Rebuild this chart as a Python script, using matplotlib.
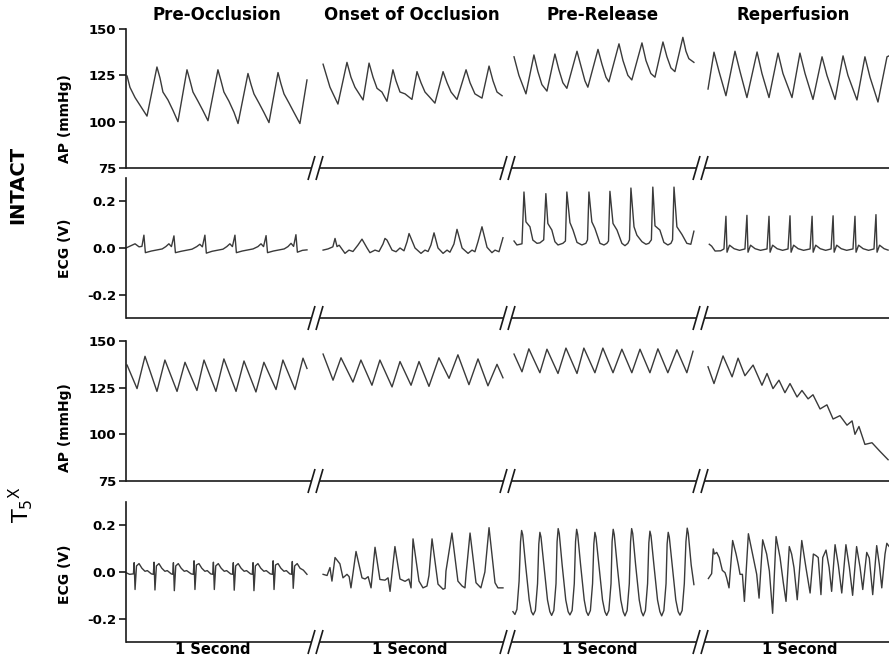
"""Arterial pressure and ECG traces, intact vs T5X, in four 1-s windows
around a coronary occlusion. Writes out.png."""

import matplotlib
matplotlib.use("Agg")
import matplotlib.pyplot as plt
from matplotlib.lines import Line2D

# ---- traces: (time in ms inside the 1-s window, value) -----------------------
# AP in mmHg, ECG in V

INTACT_AP_PRE = [
    (6, 124.6), (22, 118.5), (50, 113), (83, 108), (116, 103),
    (171, 129.5), (188, 123.5), (204, 116), (232, 111.7), (260, 106), (287, 100),
    (337, 128), (354, 122), (370, 116), (398, 111), (425, 106), (453, 100.5),
    (508, 128), (525, 122), (541, 116), (569, 111), (597, 105), (619, 99),
    (674, 126), (691, 120), (707, 115), (735, 110), (762, 105), (790, 99.5),
    (840, 126.5), (856, 120.5), (873, 115), (901, 110), (928, 105), (961, 99),
    (1000, 122.5),
]
INTACT_AP_ONSET = [
    (6, 131), (44, 118.6), (88, 109.5),
    (138, 132), (160, 124), (182, 118.6), (227, 111.7),
    (260, 131.6), (282, 124), (304, 118), (331, 116), (359, 111),
    (392, 128), (409, 122), (431, 116), (459, 115), (497, 112),
    (525, 127), (547, 121), (569, 116), (597, 113), (624, 110),
    (669, 127), (691, 121), (713, 116), (746, 112),
    (796, 128), (818, 121), (845, 115), (884, 112.7),
    (923, 130), (945, 122), (967, 116), (995, 114),
]
INTACT_AP_RELEASE = [
    (6, 135), (33, 125), (72, 115),
    (116, 136), (138, 127), (160, 120), (188, 116.5),
    (232, 136.5), (254, 128), (276, 121), (298, 118),
    (354, 138), (376, 130), (398, 122), (414, 118.6),
    (470, 139), (492, 131), (514, 124), (530, 121.5),
    (586, 142), (608, 133), (635, 125), (657, 122.5),
    (713, 142.5), (735, 133), (762, 126), (785, 124),
    (829, 143), (851, 135), (873, 129), (895, 127),
    (939, 145.5), (956, 138), (972, 134), (1000, 132),
]
INTACT_AP_REPERF = [
    (0, 117.6), (33, 137.5), (61, 127), (99, 114),
    (149, 138), (177, 127), (215, 113),
    (271, 137.6), (298, 126), (337, 113),
    (387, 137), (414, 126), (464, 113),
    (508, 137), (536, 126), (580, 112),
    (630, 135), (657, 125), (702, 112),
    (746, 135.5), (773, 125), (823, 111.7),
    (867, 135), (895, 124), (939, 110.6),
    (989, 135), (1000, 135.5),
]

INTACT_ECG_PRE = [
    (0, 0.0), (22, 0.008), (50, 0.018), (72, 0.005), (88, 0.007),
    (99, 0.055), (107, -0.02), (140, -0.013), (200, -0.004),
    (220, 0.006), (237, 0.018), (251, 0.006), (265, 0.052), (273, -0.02), (305, -0.014), (365, -0.005),
    (391, 0.006), (408, 0.016), (422, 0.005), (436, 0.055), (444, -0.022), (476, -0.014), (536, -0.005),
    (557, 0.006), (574, 0.018), (588, 0.006), (602, 0.055), (610, -0.02), (642, -0.013), (702, -0.004),
    (729, 0.006), (746, 0.018), (760, 0.006), (774, 0.053), (782, -0.02), (814, -0.013), (874, -0.004),
    (895, 0.006), (912, 0.02), (926, 0.007), (939, 0.057), (947, -0.018), (975, -0.01), (1000, -0.008),
]
INTACT_ECG_ONSET = [
    (6, -0.009), (33, -0.004), (60, 0.005), (72, 0.041), (83, 0.006), (95, 0.012),
    (127, -0.023), (149, -0.009), (171, -0.015),
    (199, 0.013), (221, 0.038), (249, 0.0), (265, -0.02), (293, -0.009), (315, -0.015),
    (337, 0.017), (348, 0.041), (359, 0.034), (387, -0.009), (409, -0.016), (431, 0.0), (453, -0.012),
    (470, 0.027), (481, 0.062), (514, 0.0), (547, -0.023), (569, -0.009), (586, -0.015),
    (602, 0.013), (619, 0.065), (641, 0.0), (669, -0.023), (691, -0.009), (707, -0.018),
    (729, 0.017), (746, 0.08), (774, 0.0), (807, -0.023), (829, -0.009), (845, -0.016),
    (862, 0.027), (884, 0.091), (912, 0.003), (939, -0.02), (956, -0.009), (978, -0.016),
    (1000, 0.044),
]
INTACT_ECG_RELEASE = [
    (6, 0.03), (22, 0.013), (50, 0.018), (61, 0.24), (72, 0.112), (94, 0.091),
    (110, 0.034), (133, 0.02), (149, 0.022), (170, 0.035),
    (182, 0.233), (193, 0.105), (215, 0.077), (232, 0.027), (249, 0.013), (276, 0.02), (290, 0.03),
    (298, 0.24), (315, 0.109), (332, 0.077), (354, 0.024), (381, 0.013), (403, 0.02), (412, 0.035),
    (420, 0.24), (436, 0.112), (453, 0.084), (481, 0.02), (503, 0.013), (519, 0.02), (528, 0.03),
    (536, 0.243), (553, 0.105), (575, 0.077), (602, 0.02), (619, 0.01), (635, 0.02), (644, 0.035),
    (652, 0.257), (669, 0.091), (685, 0.055), (713, 0.027), (735, 0.016), (751, 0.02), (765, 0.035),
    (773, 0.261), (785, 0.095), (812, 0.077), (834, 0.024), (856, 0.013), (873, 0.02), (882, 0.035),
    (890, 0.261), (906, 0.091), (934, 0.058), (961, 0.02), (983, 0.016), (1000, 0.072),
]
INTACT_ECG_REPERF = [
    (7, 0.016), (20, 0.008), (39, -0.013), (70, -0.012), (88, -0.004),
    (99, 0.136), (105, -0.018), (119, 0.012), (144, -0.003), (174, -0.01), (204, -0.004),
    (215, 0.14), (221, -0.018), (235, 0.012), (260, -0.003), (290, -0.01), (326, -0.004),
    (337, 0.136), (343, -0.018), (357, 0.012), (382, -0.003), (412, -0.01), (442, -0.004),
    (453, 0.138), (459, -0.018), (473, 0.012), (498, -0.003), (528, -0.01), (564, -0.004),
    (575, 0.136), (581, -0.018), (595, 0.012), (620, -0.003), (650, -0.01), (680, -0.004),
    (691, 0.138), (697, -0.018), (711, 0.012), (736, -0.003), (766, -0.01), (801, -0.004),
    (812, 0.136), (818, -0.018), (832, 0.012), (857, -0.003), (887, -0.01), (917, -0.004),
    (928, 0.143), (934, -0.018), (948, 0.012), (973, -0.003), (995, -0.009),
]

T5X_AP_PRE = [
    (6, 137.1), (61, 124.5), (105, 141.8), (171, 123), (215, 139.8), (282, 123),
    (326, 138.6), (392, 123.5), (431, 139.8), (497, 123), (541, 140.4), (608, 123),
    (652, 139.3), (718, 122.7), (762, 138.6), (829, 124), (867, 139.8), (934, 124),
    (978, 140.8), (1000, 135.3),
]
T5X_AP_ONSET = [
    (6, 143), (61, 129), (105, 141), (171, 128), (215, 139.8), (276, 126.3),
    (320, 139.8), (387, 125.4), (431, 139), (492, 126.3), (536, 139), (591, 125.7),
    (646, 141), (702, 130), (751, 142.6), (812, 126.6), (862, 140.4), (917, 126),
    (967, 137.5), (1000, 130.3),
]
T5X_AP_RELEASE = [
    (6, 143), (50, 133.5), (88, 145.8), (149, 133), (188, 145.6), (249, 132.6),
    (293, 146.2), (354, 132.6), (392, 146.2), (453, 133), (497, 146.2), (553, 133),
    (602, 145.6), (657, 133), (702, 145.6), (757, 133), (801, 145.8), (856, 133),
    (906, 145.3), (961, 133), (995, 144.5),
]
T5X_AP_REPERF = [
    (0, 136.2), (33, 127.2), (83, 142), (133, 130.8), (166, 140.8), (204, 131.4),
    (249, 137.1), (298, 126.3), (326, 132.6), (359, 124.5), (392, 129), (425, 122.3),
    (453, 127.2), (492, 120), (519, 123.5), (553, 119), (580, 121.2), (619, 113.6),
    (657, 115.8), (691, 108.2), (729, 110), (768, 104.9), (796, 107.2), (812, 100),
    (834, 104.2), (867, 94.6), (906, 95.5), (950, 90.9), (995, 86.4),
]

T5X_ECG_PRE = [
    (0, -0.003), (20, -0.01), (41, -0.008), (45, 0.04), (50, -0.075), (58, 0.026),
    (72, 0.036), (88, 0.016), (105, 0.003), (118, 0.006), (140, -0.008),
    (151, -0.01), (155, 0.042), (160, -0.077), (168, 0.026), (182, 0.036), (198, 0.016), (215, 0.003), (228, 0.006), (250, -0.008),
    (258, -0.01), (262, 0.04), (267, -0.08), (275, 0.026), (289, 0.036), (305, 0.016), (322, 0.003), (335, 0.006), (360, -0.008),
    (372, -0.01), (376, 0.048), (381, -0.075), (389, 0.03), (403, 0.036), (419, 0.016), (436, 0.003), (449, 0.006), (468, -0.008),
    (479, -0.01), (483, 0.042), (488, -0.075), (496, 0.026), (510, 0.036), (526, 0.016), (543, 0.003), (556, 0.006), (578, -0.008),
    (589, -0.01), (593, 0.04), (598, -0.078), (606, 0.026), (620, 0.036), (636, 0.016), (653, 0.003), (666, 0.006), (688, -0.008),
    (698, -0.01), (702, 0.04), (707, -0.08), (715, 0.026), (729, 0.036), (745, 0.016), (762, 0.003), (775, 0.006), (797, -0.008),
    (809, -0.01), (813, 0.048), (818, -0.075), (826, 0.03), (840, 0.036), (856, 0.016), (873, 0.003), (886, 0.006), (905, -0.008),
    (915, -0.01), (919, 0.045), (924, -0.07), (932, 0.026), (946, 0.036), (962, 0.016), (980, 0.008), (1000, -0.01),
]
T5X_ECG_ONSET = [
    (6, -0.01), (28, -0.015), (44, 0.019), (55, -0.039), (72, 0.062), (99, 0.035),
    (116, -0.025), (138, -0.01), (150, -0.02),
    (160, -0.068), (188, 0.088), (221, -0.025), (238, -0.03), (255, -0.02),
    (271, -0.068), (293, 0.106), (320, -0.032), (348, -0.035), (365, -0.025),
    (376, -0.083), (403, 0.109), (431, -0.03), (459, -0.04), (480, -0.03),
    (492, -0.068), (503, 0.142), (536, -0.039), (558, -0.068), (580, -0.06),
    (591, -0.015), (608, 0.142), (641, -0.052), (669, -0.074), (680, -0.07),
    (685, 0.004), (718, 0.167), (751, -0.039), (774, -0.06), (790, -0.068),
    (796, -0.01), (818, 0.167), (851, -0.046), (878, -0.068),
    (900, 0.0), (923, 0.19), (956, -0.046), (972, -0.068), (1000, -0.068),
]
T5X_ECG_RELEASE = [
    (0, -0.17), (11, -0.182), (22, -0.16), (34, -0.04), (42, 0.13), (48, 0.178),
    (54, 0.16), (70, 0.03), (90, -0.12), (102, -0.17), (112, -0.184),
    (124, -0.165), (136, -0.05), (143, 0.12), (149, 0.17), (155, 0.15), (171, 0.03), (191, -0.12), (204, -0.17), (214, -0.186),
    (226, -0.165), (238, -0.05), (244, 0.13), (250, 0.186), (256, 0.165), (272, 0.03), (292, -0.12), (305, -0.17), (315, -0.184),
    (327, -0.165), (339, -0.05), (346, 0.13), (352, 0.183), (358, 0.16), (374, 0.03), (394, -0.12), (406, -0.17), (416, -0.186),
    (428, -0.165), (440, -0.05), (447, 0.12), (453, 0.17), (459, 0.15), (475, 0.03), (495, -0.12), (508, -0.17), (518, -0.186),
    (530, -0.165), (542, -0.05), (548, 0.13), (554, 0.183), (560, 0.16), (576, 0.03), (596, -0.12), (609, -0.17), (619, -0.188),
    (631, -0.165), (643, -0.05), (650, 0.13), (656, 0.186), (662, 0.165), (678, 0.03), (698, -0.12), (710, -0.17), (720, -0.188),
    (732, -0.165), (744, -0.05), (751, 0.125), (757, 0.175), (763, 0.155), (779, 0.03), (799, -0.12), (812, -0.17), (822, -0.188),
    (834, -0.165), (846, -0.05), (852, 0.12), (858, 0.17), (864, 0.15), (880, 0.03), (900, -0.12), (913, -0.17), (923, -0.185),
    (935, -0.165), (947, -0.05), (956, 0.13), (963, 0.188), (969, 0.165), (985, 0.03), (1000, -0.054),
]
T5X_ECG_REPERF = [
    (2, -0.028), (20, -0.007), (29, 0.099), (35, 0.077), (48, 0.084), (62, 0.062),
    (79, 0.007), (94, -0.003), (103, -0.025), (116, -0.068), (136, 0.135), (155, 0.077),
    (167, 0.033), (177, -0.01), (190, -0.01), (201, -0.126), (223, 0.164), (250, 0.062),
    (269, -0.01), (282, -0.112), (302, 0.138), (324, 0.077), (339, 0.004), (357, -0.177),
    (376, 0.152), (398, 0.062), (416, -0.046), (431, -0.126), (449, 0.109), (462, 0.077),
    (475, 0.019), (493, -0.119), (518, 0.135), (541, 0.019), (564, -0.09), (582, 0.077),
    (597, 0.07), (609, 0.062), (624, -0.097), (634, 0.062), (652, 0.094), (669, 0.02),
    (683, -0.083), (702, 0.117), (720, 0.03), (739, -0.09), (762, 0.117), (781, 0.02),
    (799, -0.1), (821, 0.109), (840, 0.02), (855, -0.075), (877, 0.084), (891, 0.06),
    (910, -0.097), (932, 0.113), (947, 0.03), (960, -0.068), (978, 0.077), (988, 0.123),
    (1000, 0.11),
]

WINDOWS = ["Pre-Occlusion", "Onset of Occlusion", "Pre-Release", "Reperfusion"]
GROUPS = ["INTACT", "T$_5$$^{\\rm X}$"]
AP_TICKS = [75, 100, 125, 150]
AP_TICK_LABELS = ["75", "100", "125", "150"]
ECG_TICKS = [-0.2, 0.0, 0.2]
ECG_TICK_LABELS = ["-0.2", "0.0", "0.2"]

# ---- layout (pixels on the 889 x 659 canvas) ---------------------------------
W, H = 889, 659
LEFT, RIGHT = 126, 889
WIN_START = [0.0, 1.083, 2.138, 3.216]    # s, start of each window on the time axis
T_MAX = 4.216
BREAKS = [316, 508, 701]                  # x of the "//" marks
TITLE_X = [217, 412, 603, 793]
SECOND_X = [213, 410, 600, 800]
AXIS_COLOR = "#1a1a1a"
TRACE_COLOR = "#3a3a3a"


def fx(x):
    return x / W


def fy(y):
    return 1 - y / H


def fig_line(fig, xs, ys):
    fig.add_artist(Line2D([fx(x) for x in xs], [fy(y) for y in ys],
                          transform=fig.transFigure, color=AXIS_COLOR,
                          lw=1.2, solid_capstyle="butt"))


def main():
    fig = plt.figure(figsize=(W / 100, H / 100), dpi=100)

    panels = [
        # (top, bottom), traces, ylim, ticks, tick labels, ylabel, ylabel y
        ((29, 168), [INTACT_AP_PRE, INTACT_AP_ONSET, INTACT_AP_RELEASE, INTACT_AP_REPERF],
         (75, 150), AP_TICKS, AP_TICK_LABELS, "AP (mmHg)", 119),
        ((178, 318), [INTACT_ECG_PRE, INTACT_ECG_ONSET, INTACT_ECG_RELEASE, INTACT_ECG_REPERF],
         (-0.3, 0.3), ECG_TICKS, ECG_TICK_LABELS, "ECG (V)", 248),
        ((341, 481), [T5X_AP_PRE, T5X_AP_ONSET, T5X_AP_RELEASE, T5X_AP_REPERF],
         (75, 150), AP_TICKS, AP_TICK_LABELS, "AP (mmHg)", 428),
        ((502, 642), [T5X_ECG_PRE, T5X_ECG_ONSET, T5X_ECG_RELEASE, T5X_ECG_REPERF],
         (-0.3, 0.3), ECG_TICKS, ECG_TICK_LABELS, "ECG (V)", 574),
    ]

    for (top, bottom), traces, ylim, ticks, labels, ylabel, label_y in panels:
        ax = fig.add_axes([fx(LEFT), fy(bottom), (RIGHT - LEFT) / W, (bottom - top) / H])
        ax.set_xlim(0, T_MAX)
        ax.set_ylim(*ylim)
        for start, trace in zip(WIN_START, traces):
            t = [start + p[0] / 1000 for p in trace]
            v = [p[1] for p in trace]
            ax.plot(t, v, color=TRACE_COLOR, lw=1.0, clip_on=False)

        for side in ("top", "right", "bottom"):
            ax.spines[side].set_visible(False)
        ax.spines["left"].set_linewidth(1.2)
        ax.spines["left"].set_color(AXIS_COLOR)
        ax.set_xticks([])
        ax.set_yticks(ticks)
        ax.set_yticklabels(labels, fontsize=9.5, fontweight="bold")
        ax.tick_params(axis="y", length=5, width=1.2, pad=2, color=AXIS_COLOR)
        ax.patch.set_alpha(0)

        # broken time axis: one stretch per window, "//" between them
        edges = [LEFT] + [x for b in BREAKS for x in (b - 4, b + 4)] + [RIGHT]
        for x0, x1 in zip(edges[::2], edges[1::2]):
            fig_line(fig, [x0, x1], [bottom, bottom])
        for b in BREAKS:
            fig_line(fig, [b - 8, b - 1], [bottom + 12, bottom - 12])
            fig_line(fig, [b, b + 7], [bottom + 12, bottom - 12])

        fig.text(fx(65), fy(label_y), ylabel, rotation=90, ha="center", va="center",
                 fontsize=10, fontweight="bold")

    for x, name in zip(TITLE_X, WINDOWS):
        fig.text(fx(x), fy(14.5), name, ha="center", va="center",
                 fontsize=12, fontweight="bold")
    for x in SECOND_X:
        fig.text(fx(x), fy(649), "1 Second", ha="center", va="center",
                 fontsize=10.5, fontweight="bold")

    fig.text(fx(18), fy(185), GROUPS[0], rotation=90, ha="center", va="center",
             fontsize=14, fontweight="bold")
    fig.text(fx(21), fy(505), GROUPS[1], rotation=90, ha="center", va="center",
             fontsize=16)

    fig.savefig("out.png", dpi=100)


if __name__ == "__main__":
    main()
